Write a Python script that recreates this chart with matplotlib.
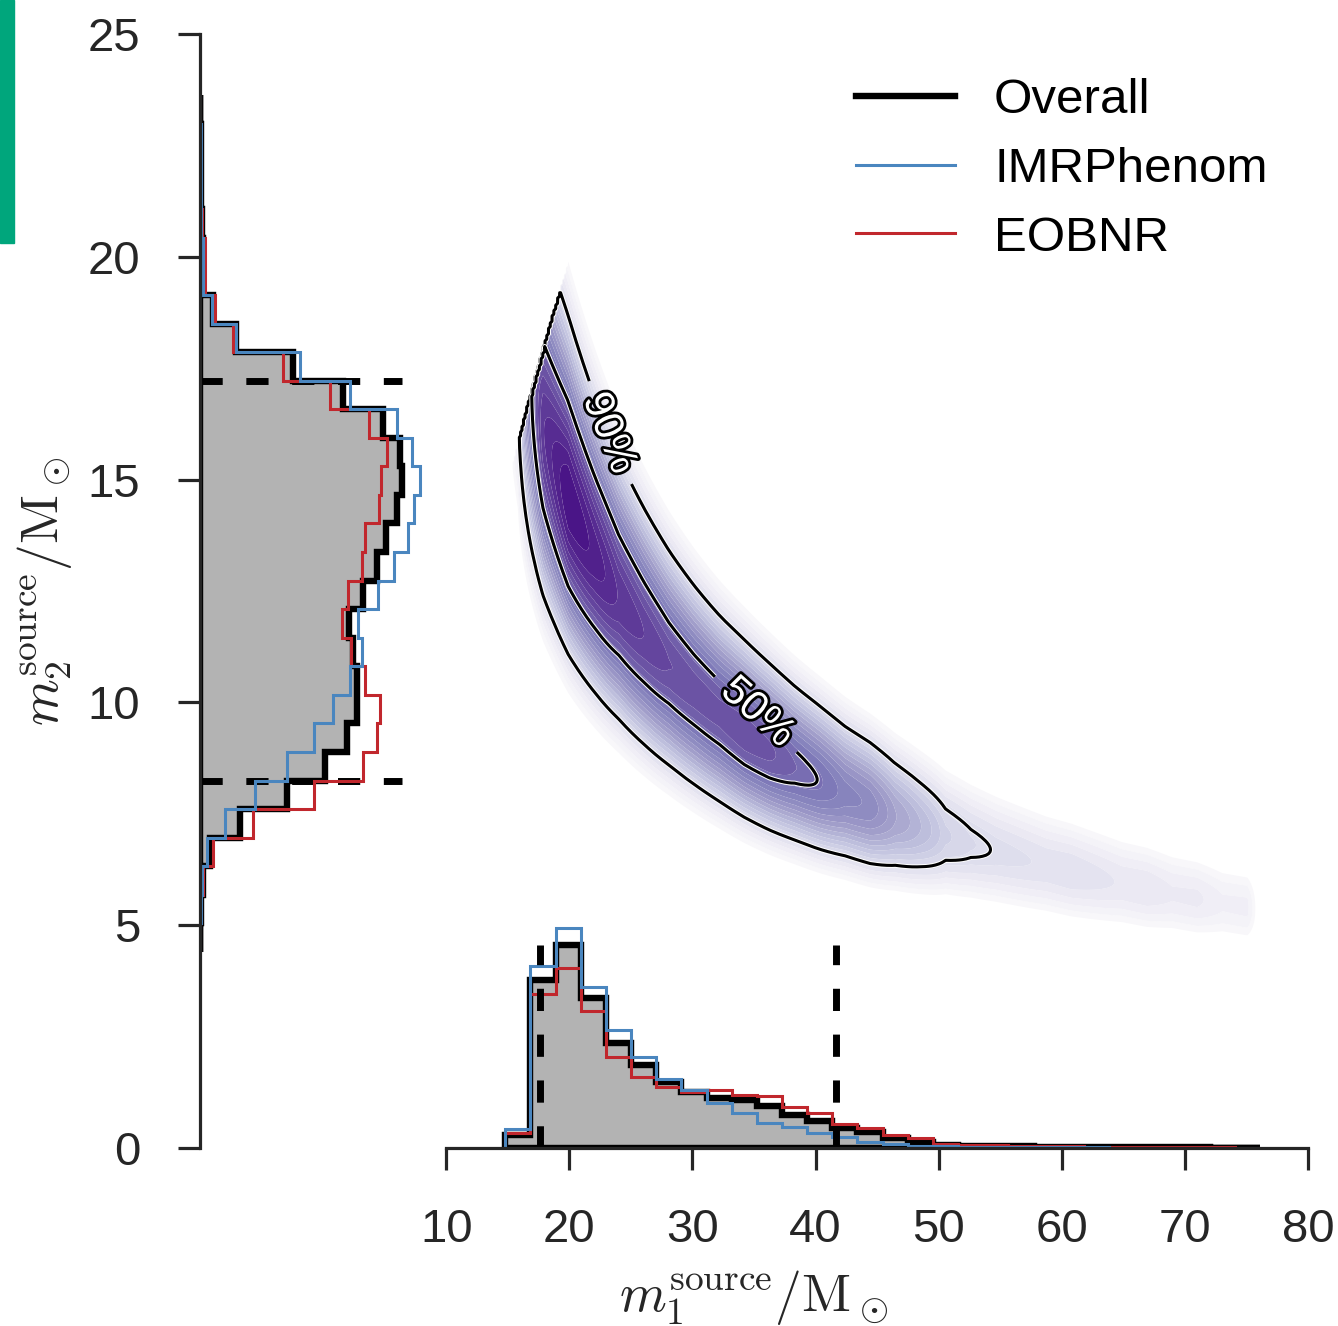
import numpy as np
import matplotlib
matplotlib.use("Agg")
import matplotlib.pyplot as plt
import matplotlib.patheffects as pe
from matplotlib.lines import Line2D
from matplotlib.patches import Rectangle

plt.rcParams["font.family"] = ["Liberation Sans", "DejaVu Sans"]
plt.rcParams["mathtext.fontset"] = "cm"

# ---------------- data ----------------
# m1 histograms: 30 equal bins
M1_BIN_START, M1_BIN_STOP, M1_NBINS = 14.8, 76.1, 30
m1_overall = [0.30, 3.77, 4.56, 3.36, 2.35, 1.86, 1.47, 1.26, 1.12, 1.08,
              0.94, 0.74, 0.61, 0.44, 0.37, 0.22, 0.14, 0.07, 0.05, 0.04,
              0.035, 0.03, 0.03, 0.025, 0.02, 0.02, 0.015, 0.015, 0.01, 0.01]
m1_imrphenom = [0.43, 4.08, 4.93, 3.62, 2.65, 2.05, 1.54, 1.30, 1.00, 0.78,
                0.55, 0.48, 0.34, 0.25, 0.14, 0.09, 0.045, 0.04, 0.03, 0.025,
                0.02, 0.02, 0.015, 0.015, 0.01, 0.01, 0.01, 0.01, 0.005, 0.005]
m1_eobnr = [0.34, 3.45, 4.05, 3.08, 2.05, 1.60, 1.38, 1.26, 1.30, 1.20,
            1.17, 0.93, 0.78, 0.54, 0.44, 0.29, 0.22, 0.09, 0.07, 0.06,
            0.05, 0.04, 0.04, 0.03, 0.03, 0.025, 0.02, 0.02, 0.015, 0.01]

# m2 histograms (drawn sideways from the left edge): 30 equal bins
M2_BIN_START, M2_BIN_STOP, M2_NBINS = 4.4, 23.63, 30
m2_overall = [0.04, 0.08, 0.22, 0.81, 3.24, 7.06, 10.14, 11.92, 12.73, 12.73,
              12.41, 12.08, 13.22, 14.36, 15.09, 15.98, 16.38, 16.22, 14.84, 11.60,
              7.54, 2.92, 1.03, 0.27, 0.27, 0.18, 0.08, 0.06, 0.05, 0.04]
m2_imrphenom = [0.02, 0.06, 0.14, 0.54, 2.03, 4.46, 7.06, 9.25, 10.79, 12.17,
                13.14, 12.81, 14.44, 15.73, 16.87, 17.36, 17.84, 17.19, 15.98, 12.17,
                8.11, 2.92, 0.97, 0.28, 0.22, 0.11, 0.06, 0.06, 0.05, 0.04]
m2_eobnr = [0.04, 0.10, 0.27, 1.03, 4.30, 9.25, 13.22, 14.36, 14.60, 13.38,
            12.25, 11.52, 12.00, 13.14, 13.38, 14.52, 14.68, 15.17, 13.71, 10.54,
            6.73, 2.68, 1.22, 0.41, 0.41, 0.20, 0.10, 0.06, 0.05, 0.02]

# 90% credible bounds (dashed lines)
m1_interval = [17.6, 41.7]
m2_interval = [8.24, 17.21]

# 2D posterior model: chirp-mass band weighted by a tempered m1 marginal
MC_MEAN, MC_SLOPE, MC_SIGMA = 14.95, 0.008, 0.93   # mean drifts slowly with m1
MC_PIVOT = 30.0
M1_WEIGHT_EXP = 0.68
contour_labels = {0.9: "90%", 0.5: "50%"}
label_spots = {0.9: (22.5, 15.96), 0.5: (35.7, 9.9)}

X_LEFT = -10  # left edge where the m2 histogram starts

# ---------------- figure ----------------
fig = plt.figure(figsize=(13.38, 13.26), dpi=100)
ax = fig.add_axes([200 / 1338, 1 - 1148 / 1326, 1108 / 1338, 1114 / 1326])
ax.set_xlim(X_LEFT, 80)
ax.set_ylim(0, 25)

m1_edges = np.linspace(M1_BIN_START, M1_BIN_STOP, M1_NBINS + 1)
m1_centers = 0.5 * (m1_edges[1:] + m1_edges[:-1])
gx = np.linspace(12, 80, 500)
gy = np.linspace(2, 22, 500)
M1, M2 = np.meshgrid(gx, gy)
mc = (M1 * M2) ** 0.6 / (M1 + M2) ** 0.2
dmc = mc * (0.6 / M2 - 0.2 / (M1 + M2))
mc_mean = MC_MEAN + MC_SLOPE * (M1 - MC_PIVOT)
cond = np.exp(-0.5 * ((mc - mc_mean) / MC_SIGMA) ** 2) * dmc
cond[M2 > M1] = 0
# marginal weight tapering to zero at the outer bin edges
xp = np.concatenate([[m1_edges[0]], m1_centers, [m1_edges[-1]]])
fp = np.concatenate([[0], m1_overall, [0]])
h1 = np.interp(gx, xp, fp, left=0, right=0)
dens = cond * h1 ** M1_WEIGHT_EXP

flat = np.sort(dens.ravel())[::-1]
cum = np.cumsum(flat) / flat.sum()
lev = {p: flat[np.searchsorted(cum, p)] for p in contour_labels}

peak = dens.max()
t = np.linspace(0.23, 1.0, 26)
fill_levels = peak * t ** 2.5
fill_levels[-1] = peak * 1.01
cols = plt.cm.Purples(np.linspace(0.04, 0.93, len(fill_levels) - 1))
ax.contourf(M1, M2, dens, levels=fill_levels, colors=cols, antialiased=True)
for p, s in contour_labels.items():
    cs = ax.contour(M1, M2, dens, levels=[lev[p]], colors="black",
                    linewidths=2.2)
    cs.set_path_effects([pe.Stroke(linewidth=3.6, foreground="white"),
                         pe.Normal()])
    labels = ax.clabel(cs, fmt={lev[p]: s}, fontsize=30, inline=True,
                       inline_spacing=14, manual=[label_spots[p]])
    for txt in labels:
        txt.set_color("white")
        txt.set_path_effects([pe.withStroke(linewidth=4, foreground="black")])

# m1 histograms
grey = "#b3b3b3"
blue = "#4a86bf"
red = "#c1272d"
ax.hist(m1_centers, bins=m1_edges, weights=m1_overall, histtype="stepfilled",
        facecolor=grey, edgecolor="black", linewidth=4.6)
ax.hist(m1_centers, bins=m1_edges, weights=m1_eobnr, histtype="step",
        color=red, linewidth=2.2)
ax.hist(m1_centers, bins=m1_edges, weights=m1_imrphenom, histtype="step",
        color=blue, linewidth=2.2)

# m2 histograms
m2_edges = np.linspace(M2_BIN_START, M2_BIN_STOP, M2_NBINS + 1)
m2_centers = 0.5 * (m2_edges[1:] + m2_edges[:-1])
ax.hist(m2_centers, bins=m2_edges, weights=m2_overall, histtype="stepfilled",
        orientation="horizontal", bottom=X_LEFT,
        facecolor=grey, edgecolor="black", linewidth=4.6)

# dashed 90% bounds
dash = (0, (3.2, 3.4))
for v in m1_interval:
    ax.plot([v, v], [0, max(m1_overall)], color="black", lw=5, linestyle=dash)
for v in m2_interval:
    ax.plot([X_LEFT, X_LEFT + max(m2_overall)], [v, v], color="black", lw=5,
            linestyle=dash)

ax.hist(m2_centers, bins=m2_edges, weights=m2_eobnr, histtype="step",
        orientation="horizontal", bottom=X_LEFT, color=red, linewidth=2.2)
ax.hist(m2_centers, bins=m2_edges, weights=m2_imrphenom, histtype="step",
        orientation="horizontal", bottom=X_LEFT, color=blue, linewidth=2.2)

# axes styling
ink = "#262626"
for side in ["top", "right"]:
    ax.spines[side].set_visible(False)
for side in ["left", "bottom"]:
    ax.spines[side].set_linewidth(2.3)
    ax.spines[side].set_color(ink)
ax.spines["bottom"].set_bounds(10, 80)
ax.set_xticks(range(10, 81, 10))
ax.set_yticks(range(0, 26, 5))
ax.tick_params(length=16, width=2.3, color=ink, labelcolor=ink,
               labelsize=34, pad=27)
ax.set_xlabel(r"$m_1^{\rm source}/{\rm M}_\odot$", fontsize=38.5, color=ink,
              labelpad=12)
ax.set_ylabel(r"$m_2^{\rm source}/{\rm M}_\odot$", fontsize=38.5, color=ink,
              labelpad=10)

handles = [Line2D([], [], color="black", lw=4.6),
           Line2D([], [], color=blue, lw=2.2),
           Line2D([], [], color=red, lw=2.2)]
ax.legend(handles, ["Overall", "IMRPhenom", "EOBNR"], loc="upper left",
          bbox_to_anchor=(0.552, 1.0), frameon=False, fontsize=35.5,
          handlelength=2.0, handletextpad=0.8, labelspacing=0.48)

fig.patches.append(Rectangle((0, 1 - 243 / 1326), 14 / 1338, 243 / 1326,
                             transform=fig.transFigure, color="#00a67c"))

fig.savefig("out.png", dpi=100)
